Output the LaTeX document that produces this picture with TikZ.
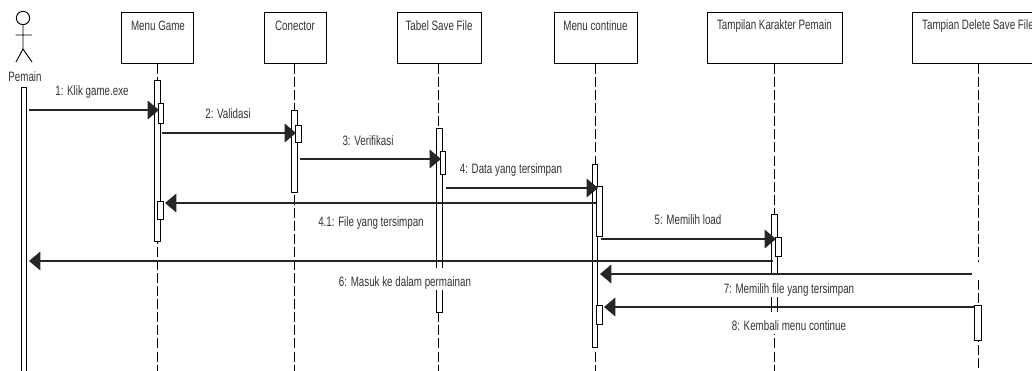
\documentclass[tikz,border=0pt]{standalone}
\usepackage{fontspec}
\setmainfont{Liberation Sans}[FakeStretch=0.72]
\usetikzlibrary{arrows.meta}
\tikzset{
  objbox/.style={draw, line width=0.8pt, anchor=north west, minimum height=38.25pt, inner sep=0pt},
  objtxt/.style={font=\fontsize{10.2}{11}\selectfont, text=black!80},
  lifeline/.style={line width=0.6pt, dash pattern=on 7.5pt off 2.3pt},
  actbar/.style={draw, fill=white, line width=0.7pt, anchor=north, minimum width=4.4pt, inner sep=0pt},
  msg/.style={->, line width=0.9pt, draw=black!85},
  msgtxt/.style={font=\fontsize{10.2}{11}\selectfont, text=black!80, fill=white, inner xsep=1pt, inner ysep=1.5pt, text height=12.5pt, text depth=1pt}
}
\begin{document}
\begin{tikzpicture}[x=0.75pt, y=-0.75pt, >={Triangle[length=8.5pt,width=14pt]}]
  \useasboundingbox (0,0) rectangle (1032,371);
  \clip (0,0) rectangle (1032,371);
  % Actor
  \node[draw, circle, line width=0.7pt, minimum size=10pt, inner sep=0pt] (head) at (23,18) {};
  \coordinate (hip) at (23,49);
  \coordinate (armL) at (15.5,35);
  \coordinate (armR) at (32,35);
  \coordinate (legL) at (16,62);
  \coordinate (legR) at (32,62);
  \draw[line width=0.7pt] (head.south) -- (hip) (armL) -- (armR) (legL) -- (hip) -- (legR);
  \node[objtxt] (pemain) at (25,77) {Pemain};
  % Objects: name / left / width / text centre
  \foreach \name/\x/\w/\c/\txt in {game/121/72/158/Menu Game, conn/264/62/295/Conector,
      tabel/397/84/439/Tabel Save File, cont/554/83/595.5/Menu continue,
      karakter/707/135/774.5/Tampilan Karakter Pemain, hapus/912/140/978/Tampian Delete Save File} {
    \node[objbox, minimum width=\w*0.75pt] (\name) at (\x,12) {};
    \node[objtxt] (\name txt) at (\c,26) {\txt};
  }
  % Lifelines
  \coordinate (gameEnd) at (157,371);
  \coordinate (connEnd) at (294,371);
  \coordinate (tabelEnd) at (438.5,371);
  \coordinate (contEnd) at (595,371);
  \coordinate (karakterEnd) at (774,371);
  \foreach \name in {game, conn, tabel, cont, karakter}
    \draw[lifeline] (\name.south -| \name End) -- (\name End);
  \coordinate (hapusA) at (978,262);
  \coordinate (hapusB) at (978,280);
  \coordinate (hapusEnd) at (978,371);
  \draw[lifeline] (hapus.south -| hapusA) -- (hapusA) (hapusB) -- (hapusEnd);
  % Activations
  \node[actbar, minimum height=300pt] (pemainBar) at (24,87) {};
  \node[actbar, minimum height=120.75pt] (gameBar) at (157.5,80) {};
  \node[actbar, minimum height=15pt] (gameIn) at (161,103) {};
  \node[actbar, minimum height=13.5pt] (gameOut) at (160.2,201) {};
  \node[actbar, minimum height=61.5pt] (connBar) at (294.5,110) {};
  \node[actbar, minimum height=12.75pt] (connIn) at (298.5,125) {};
  \node[actbar, minimum height=138pt] (tabelBar) at (439.5,128) {};
  \node[actbar, minimum height=17.25pt] (tabelIn) at (443,151) {};
  \node[actbar, minimum height=137.25pt] (contBar) at (595,164) {};
  \node[actbar, minimum height=37.5pt] (contIn) at (599.8,186) {};
  \node[actbar, minimum height=14.25pt] (contOut) at (599.8,305) {};
  \node[actbar, minimum height=78pt] (karakterBar) at (774.6,214) {};
  \node[actbar, minimum height=14.25pt] (karakterIn) at (778.7,237) {};
  \node[actbar, minimum width=5.2pt, minimum height=26.25pt] (hapusBar) at (977.5,305) {};
  % Message labels
  \node[msgtxt] (l1) at (92,88) {1: Klik game.exe};
  \node[msgtxt] (l2) at (228,111) {2: Validasi};
  \node[msgtxt] (l3) at (368,138) {3: Verifikasi};
  \node[msgtxt] (l4) at (511,166) {4: Data yang tersimpan};
  \node[msgtxt] (l41) at (371,219) {4.1: File yang tersimpan};
  \node[msgtxt] (l5) at (688,217) {5: Memilih load};
  \node[msgtxt] (l6) at (405,279) {6: Masuk ke dalam permainan};
  \node[msgtxt] (l7) at (789,285.5) {7: Memilih file yang tersimpan};
  \node[msgtxt] (l8) at (789,323) {8: Kembali menu continue};
  % Messages: name / from / to / height
  \foreach \m/\xa/\xb/\y in {m1/29/159/110, m2/162/296/133, m3/300/441/159, m4/446/598/188,
      m41/596/165/203, m5/601/776/239, m6/773/29/261, m7/972/600/274, m8/974.2/604/307} {
    \coordinate (\m a) at (\xa,\y);
    \coordinate (\m b) at (\xb,\y);
    \draw[msg] (\m a) -- (\m b);
  }
\end{tikzpicture}
\end{document}
